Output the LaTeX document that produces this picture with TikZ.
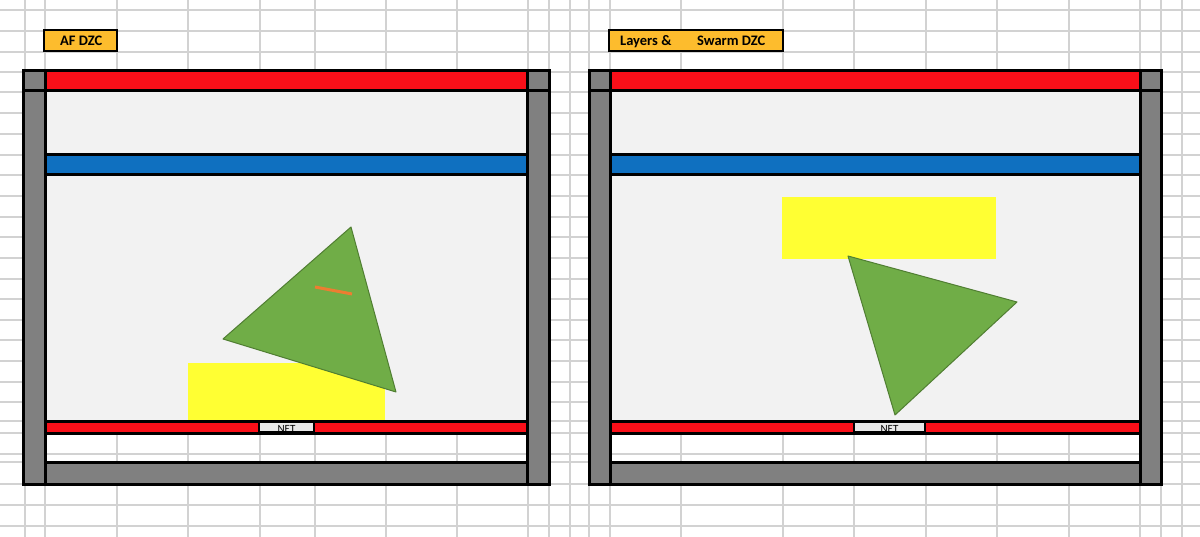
\documentclass[tikz,border=0pt]{standalone}
\usepackage{fontspec}
\setmainfont{Carlito}
\definecolor{gridc}{RGB}{210,210,210}
\definecolor{xred}{RGB}{250,15,25}
\definecolor{xblue}{RGB}{15,112,192}
\definecolor{xgray}{RGB}{128,128,128}
\definecolor{xlight}{RGB}{242,242,242}
\definecolor{xnet}{RGB}{232,232,232}
\definecolor{xyellow}{RGB}{255,255,51}
\definecolor{xgreen}{RGB}{112,173,71}
\definecolor{xgreend}{RGB}{80,126,50}
\definecolor{xorange}{RGB}{237,125,49}
\definecolor{xgold}{RGB}{253,188,45}
\tikzset{
  gridline/.style={draw=gridc, line width=1.2pt},
  frameline/.style={draw=black, line width=3pt},
  labelbox/.style={fill=xgold, draw=black, line width=2.8pt},
  labeltext/.style={font=\fontsize{14.5}{16}\selectfont\bfseries, inner sep=0pt, anchor=base west},
  nettext/.style={font=\fontsize{11}{12}\selectfont, inner sep=0pt},
  tri/.style={fill=xgreen, draw=xgreend, line width=1pt, line join=round},
  ybox/.style={fill=xyellow},
}
\begin{document}
\begin{tikzpicture}[x=1pt,y=-1pt]
\useasboundingbox (0,0) rectangle (1200,537);
\fill[white] (0,0) rectangle (1200,537);
% spreadsheet grid
\foreach \gx in {25,45,117,188,260,315,386,457,528,549,570,589,610,681,783,854,926,997,1069,1140,1161,1182}
  \draw[gridline] (\gx,0) -- (\gx,537);
\foreach \gy in {10,31,52,72,92,113,134,155,175,196,217,237,258,279,299,320,340,361,382,402,421,433,454,462,484,505,526}
  \draw[gridline] (0,\gy) -- (1200,\gy);
% frames
\foreach \L/\Li/\Ri/\R in {23/45/527/549, 589/610/1140/1161}{
  \fill[xlight] (\Li,91) rectangle (\Ri,421);
  \fill[xgray] (\L,71) rectangle (\Li,484);
  \fill[xgray] (\Ri,71) rectangle (\R,484);
  \fill[xgray] (\Li,462) rectangle (\Ri,484);
  \fill[xred] (\Li,71) rectangle (\Ri,91);
  \fill[xblue] (\Li,155) rectangle (\Ri,175);
}
% left frame content
\fill[ybox] (188,363) rectangle (385,420);
\draw[tri] (351,227) -- (223,339) -- (396,392) -- cycle;
\draw[xorange, line width=3pt] (315,287) -- (352,294);
% right frame content
\fill[ybox] (782,197) rectangle (996,259);
\draw[tri] (848,256) -- (1017,302) -- (895,415) -- cycle;
% outlines and NET boxes
\foreach \L/\Li/\Ri/\R/\Na/\Nb/\nm in {23/45/527/549/259/314/netl, 589/610/1140/1161/854/925/netr}{
  \fill[xred] (\Li,421) rectangle (\Ri,433);
  \draw[frameline] (\Li,421) -- (\Ri,421) (\Li,433) -- (\Ri,433);
  \draw[frameline] (\Li,155) -- (\Ri,155) (\Li,175) -- (\Ri,175);
  \draw[frameline] (\Li,462) -- (\Ri,462);
  \draw[frameline] (\L,91) -- (\R,91);
  \draw[frameline] (\Li,71) -- (\Li,484) (\Ri,71) -- (\Ri,484);
  \draw[frameline] (\L,71) rectangle (\R,484);
  \draw[fill=xnet, draw=black, line width=1.8pt] (\Na,422) rectangle (\Nb,432);
  \node[nettext] (\nm) at ({(\Na+\Nb)/2},428.5) {NET};
}
% labels
\draw[labelbox] (44,30) rectangle (117,51);
\node[labeltext] (lblaf) at (60,46) {AF DZC};
\draw[labelbox] (609,30) rectangle (783,51);
\node[labeltext] (lbllay) at (620,46) {Layers \&};
\node[labeltext] (lblswarm) at (697,46) {Swarm DZC};
\end{tikzpicture}
\end{document}
